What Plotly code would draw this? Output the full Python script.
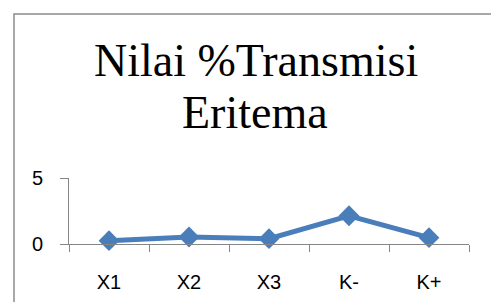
import plotly.graph_objects as go

categories = ["X1", "X2", "X3", "K-", "K+"]
values = [0.25, 0.53, 0.4, 2.14, 0.48]
y_ticks = [0, 5]
title_line1 = "Nilai %Transmisi"
title_line2 = "Eritema"

W, H = 491, 302
L, R, T, B = 69, 22, 178, 58
pw, ph = W - L - R, H - T - B

def px_x(x):
    return (x - L) / pw

def px_y(y):
    return (H - B - y) / ph

fig = go.Figure()
fig.add_trace(go.Scatter(
    x=categories, y=values, mode="lines+markers",
    line=dict(color="#4A7EBB", width=5),
    marker=dict(symbol="diamond", size=16, color="#4A7EBB"),
    showlegend=False, cliponaxis=False,
))

fig.update_layout(
    width=W, height=H,
    margin=dict(l=L, r=R, t=T, b=B, autoexpand=False),
    paper_bgcolor="white", plot_bgcolor="white",
    xaxis=dict(
        type="category", tickson="boundaries", ticks="outside", ticklen=7,
        tickcolor="#868686", showline=True, linecolor="#868686", linewidth=1,
        showgrid=False, tickfont=dict(family="Liberation Sans", size=20, color="black"),
        ticklabelstandoff=20, range=[-0.5, 4.5], automargin=False,
    ),
    yaxis=dict(
        range=[0, 5], tickvals=y_ticks, ticks="outside", ticklen=8,
        tickcolor="#868686", showline=True, linecolor="#868686", linewidth=1,
        showgrid=True, gridcolor="#868686", gridwidth=1, zeroline=False,
        tickfont=dict(family="Liberation Sans", size=20, color="black"),
        ticklabelstandoff=13, automargin=False,
    ),
    shapes=[dict(
        type="rect", xref="paper", yref="paper",
        x0=px_x(14), x1=px_x(W + 20), y0=px_y(H + 20), y1=px_y(14),
        line=dict(color="#8C8C8C", width=1.5), fillcolor="rgba(0,0,0,0)", layer="below",
    )],
    annotations=[
        dict(text=title_line1, xref="paper", yref="paper", x=px_x(256), y=px_y(61),
             showarrow=False, xanchor="center", yanchor="middle",
             font=dict(family="Liberation Serif", size=46, color="black")),
        dict(text=title_line2, xref="paper", yref="paper", x=px_x(255), y=px_y(112),
             showarrow=False, xanchor="center", yanchor="middle",
             font=dict(family="Liberation Serif", size=46, color="black")),
    ],
)

fig.write_html("out.html", config={"displayModeBar": False},
               post_script="document.body.style.margin='0';")
